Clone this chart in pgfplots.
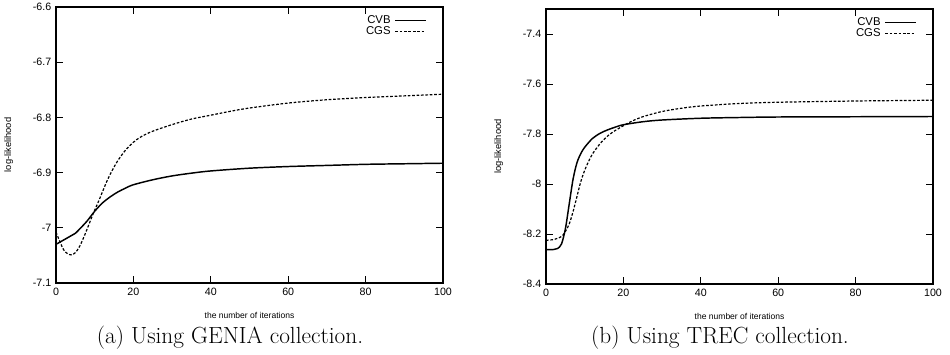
\documentclass[border=0pt]{standalone}
\usepackage{pgfplots}
\pgfplotsset{compat=1.18}
\usepackage{fontspec}
\newfontfamily\hv{Liberation Sans}
\begin{document}
\begin{tikzpicture}
\useasboundingbox (0pt,0pt) rectangle (712.5pt,265.5pt);
\pgfplotsset{
  myax/.style={
    scale only axis, width=290.25pt,
    xmin=0, xmax=100, xtick={0,20,...,100},
    axis line style={line width=0.8pt},
    tick style={line width=0.6pt, black},
    major tick length=5pt,
    tick label style={font=\hv\fontsize{8}{9}\selectfont},
    /pgf/number format/assume math mode=true,
    /pgf/number format/fixed,
    xlabel style={font=\hv\fontsize{6.4}{7}\selectfont, yshift=-6pt},
    ylabel style={font=\hv\fontsize{7}{8}\selectfont},
    xlabel={the number of iterations},
    ylabel={log-likelihood},
    legend plot pos=right,
    legend cell align=right,
    legend style={draw=none, fill=none, font=\hv\fontsize{8.5}{9}\selectfont,
      row sep=-3pt, inner sep=1pt, nodes={inner xsep=3pt}},
    legend image code/.code={\draw[##1] (0pt,0pt) -- (23pt,0pt);},
  },
  cvb/.style={black, line width=1.1pt, smooth, no marks},
  cgs/.style={black, line width=0.9pt, dash pattern=on 2pt off 1.3pt, smooth, no marks},
}
% Left
\begin{axis}[myax, at={(42pt,53.25pt)}, anchor=south west, height=207pt,
  ymin=-7.1, ymax=-6.6, ytick={-7.1,-7,-6.9,-6.8,-6.7,-6.6},
  ylabel style={yshift=8pt},
  legend style={at={(rel axis cs:0.962,0.985)}, anchor=north east}]
\addplot[cvb] coordinates {
(0,-7.030) (2,-7.022) (4,-7.014) (5,-7.010) (6,-7.003) (8,-6.988) (10,-6.970)
(12,-6.955) (14,-6.944) (16,-6.935) (18,-6.928) (20,-6.922) (25,-6.913)
(30,-6.906) (35,-6.901) (40,-6.897) (50,-6.892) (60,-6.889) (70,-6.887)
(80,-6.885) (90,-6.884) (100,-6.883)};
\addlegendentry{CVB}
\addplot[cgs] coordinates {
(0,-7.008) (1,-7.025) (2,-7.040) (3,-7.047) (4,-7.049) (5,-7.045) (6,-7.035)
(7,-7.020) (8,-7.003) (9,-6.985) (10,-6.968) (11,-6.952) (12,-6.935)
(13,-6.918) (14,-6.903) (15,-6.890) (16,-6.878) (18,-6.859) (20,-6.845)
(22,-6.835) (25,-6.825) (30,-6.813) (35,-6.803) (40,-6.796) (45,-6.789)
(50,-6.783) (60,-6.774) (70,-6.768) (80,-6.764) (90,-6.761) (100,-6.758)};
\addlegendentry{CGS}
\end{axis}
% Right
\begin{axis}[myax, at={(409.5pt,52.5pt)}, anchor=south west, height=206.25pt,
  ymin=-8.4, ymax=-7.3, ytick={-8.4,-8.2,-8,-7.8,-7.6,-7.4},
  ylabel style={yshift=8pt},
  legend style={at={(rel axis cs:0.962,0.985)}, anchor=north east}]
\addplot[cvb] coordinates {
(0,-8.262) (2,-8.262) (3,-8.258) (4,-8.240) (5,-8.180) (6,-8.080) (7,-7.980)
(8,-7.915) (9,-7.878) (10,-7.853) (12,-7.818) (14,-7.797) (16,-7.783)
(18,-7.772) (20,-7.763) (25,-7.751) (30,-7.744) (40,-7.737) (50,-7.734)
(60,-7.732) (80,-7.731) (100,-7.730)};
\addlegendentry{CVB}
\addplot[cgs] coordinates {
(0,-8.225) (2,-8.222) (4,-8.210) (5,-8.190) (6,-8.160) (7,-8.110) (8,-8.050)
(9,-7.990) (10,-7.945) (11,-7.910) (12,-7.880) (14,-7.838) (16,-7.807)
(18,-7.785) (20,-7.767) (22,-7.750) (25,-7.731) (30,-7.710) (35,-7.697)
(40,-7.688) (50,-7.678) (60,-7.673) (80,-7.668) (100,-7.665)};
\addlegendentry{CGS}
\end{axis}
\node[font=\fontsize{17.5}{20}\selectfont] at (172.5pt,12.5pt) {(a) Using GENIA collection.};
\node[font=\fontsize{17.5}{20}\selectfont] at (540pt,12.5pt) {(b) Using TREC collection.};
\end{tikzpicture}
\end{document}
